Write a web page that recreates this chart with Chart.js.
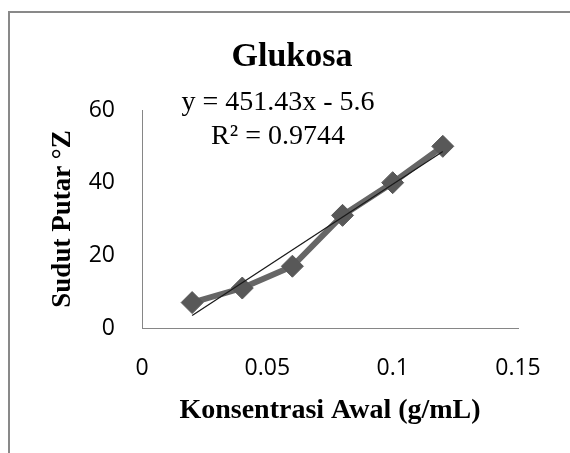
<!DOCTYPE html>
<html>
<head>
<meta charset="utf-8">
<script src="https://cdn.jsdelivr.net/npm/chart.js@4/dist/chart.umd.min.js"></script>
<style>
  html, body { margin: 0; padding: 0; background: #fff; overflow: hidden; }
  #wrap { position: relative; width: 570px; height: 453px; }
  #frame { position: absolute; left: 8px; top: 11px; width: 620px; height: 520px; border: 2px solid #898989; }
  #myChart { position: absolute; left: 0; top: 0; }
</style>
</head>
<body>
<div id="wrap">
  <div id="frame"></div>
  <canvas id="myChart" width="570" height="453"></canvas>
</div>
<script>
const concentration = [0.02, 0.04, 0.06, 0.08, 0.10, 0.12];
const rotation_deg  = [7, 11, 17, 31, 40, 50];

const trend_slope     = 451.43;
const trend_intercept = -5.6;
const r_squared       = 0.9744;

const chart_title = 'Glukosa';
const x_title = 'Konsentrasi Awal (g/mL)';
const y_title = 'Sudut Putar °Z';

const serif = '"Liberation Serif", "Times New Roman", serif';
const sans  = '"Open Sans", sans-serif';

let context = document.getElementById('myChart');

let points = concentration.map((c, i) => ({ x: c, y: rotation_deg[i] }));

let x_first = concentration[0];
let x_last  = concentration[concentration.length - 1];
let trend_points = [
    { x: x_first, y: trend_slope * x_first + trend_intercept },
    { x: x_last,  y: trend_slope * x_last  + trend_intercept }
];

// title + trendline equation, drawn on top like the excel label
const text_plugin = {
    id: 'texts',
    afterDraw(chart) {
        const ctx = chart.ctx;
        ctx.save();
        ctx.fillStyle = '#000';
        ctx.textAlign = 'center';
        ctx.textBaseline = 'middle';
        ctx.font = 'bold 34px ' + serif;
        ctx.fillText(chart_title, 292, 57);
        ctx.font = '28px ' + serif;
        ctx.fillText('y = ' + trend_slope + 'x - ' + Math.abs(trend_intercept), 278, 103);
        ctx.fillText('R² = ' + r_squared, 278, 137);
        ctx.restore();
    }
};

const data = {
    datasets: [
        {
            label: 'Linear',
            data: trend_points,
            showLine: true,
            borderColor: '#1a1a1a',
            borderWidth: 1.3,
            pointRadius: 0,
            order: 0
        },
        {
            label: 'Glukosa',
            data: points,
            showLine: true,
            borderColor: '#666666',
            borderWidth: 6,
            pointStyle: 'rectRot',
            pointRadius: 11,
            pointBackgroundColor: '#585858',
            pointBorderColor: '#585858',
            pointBorderWidth: 1,
            order: 1
        }
    ]
};

const options = {
    responsive: false,
    animation: { duration: 0 },
    clip: false,
    layout: {
        padding: { left: 0, top: 110, right: 52, bottom: 0 }
    },
    scales: {
        x: {
            type: 'linear',
            min: 0,
            max: 0.15,
            afterFit: (scale) => { scale.height = 125; },
            grid: { display: false, drawTicks: false },
            border: { display: true, color: '#868686', width: 1 },
            ticks: {
                stepSize: 0.05,
                padding: 27,
                color: '#000',
                font: { family: sans, size: 23 },
                callback: (v) => String(+v.toFixed(2))
            },
            title: {
                display: true,
                text: x_title,
                color: '#000',
                font: { family: serif, size: 28, weight: 'bold' },
                padding: { top: 0, bottom: 25 }
            }
        },
        y: {
            type: 'linear',
            min: 0,
            max: 60,
            afterFit: (scale) => { scale.width = 142; },
            grid: { display: false, drawTicks: false },
            border: { display: true, color: '#868686', width: 1 },
            ticks: {
                stepSize: 20,
                padding: 27,
                color: '#000',
                font: { family: sans, size: 23 }
            },
            title: {
                display: true,
                text: y_title,
                color: '#000',
                font: { family: serif, size: 27, weight: 'bold' },
                padding: { top: 47, bottom: 0 }
            }
        }
    },
    plugins: {
        legend: { display: false },
        tooltip: { enabled: false }
    }
};

const chart = new Chart(context, {
    type: 'scatter',
    data: data,
    options: options,
    plugins: [text_plugin]
});
</script>
</body>
</html>
